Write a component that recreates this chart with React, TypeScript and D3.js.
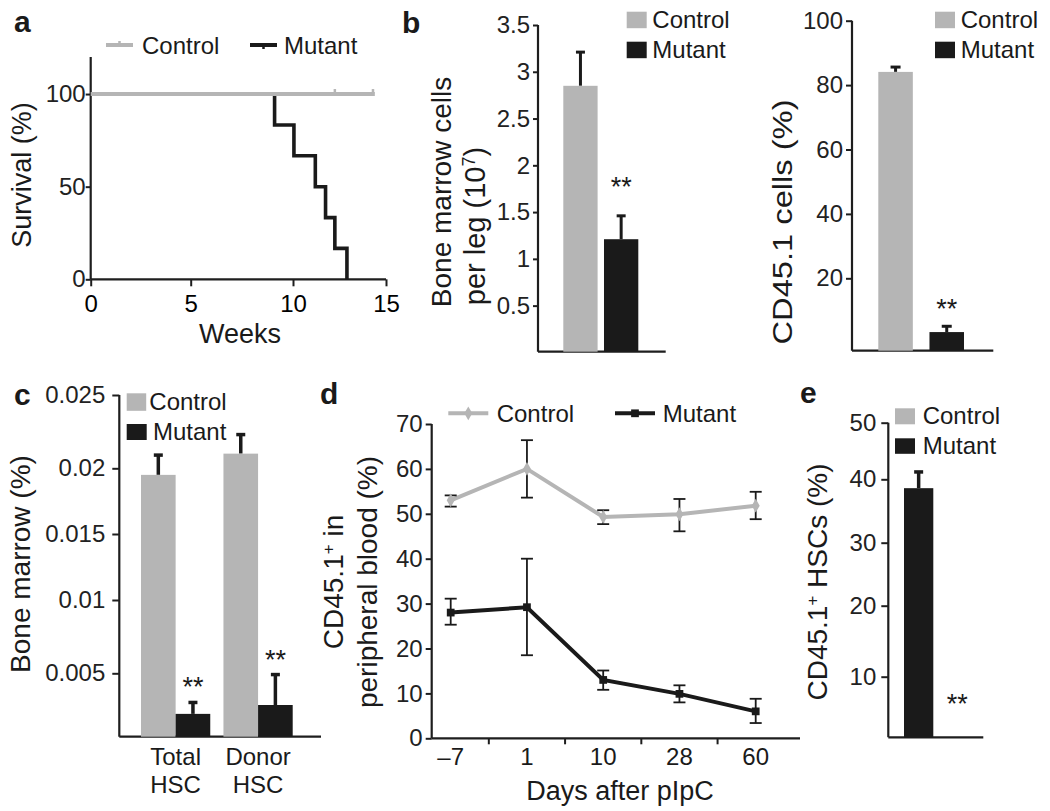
import React, { useEffect, useRef } from 'react';
import * as d3 from 'd3';

const GRAY = '#b5b5b5';
const BLACK = '#1a1a1a';
const AXIS = '#1e1e1e';
const FONT = '"Liberation Sans", Arial, Helvetica, sans-serif';
const TICK_FONT = 24;

// ---- Panel a: survival ----
const weekTicks = [0, 5, 10, 15];
const survivalTicks = [0, 50, 100];
const controlSurvivalEnd = 14.4;
const controlCensorWeeks = [12.25, 14.3];
const mutantDeathWeeks = [9.1, 10.05, 11.2, 11.75, 12.25, 12.9];
const mutantSurvival = [83.3, 66.7, 50, 33.3, 16.7, 0];

// ---- Panel b (left): bone marrow cells per leg ----
const groups = ['Control', 'Mutant'];
const bmCells = [2.85, 1.21];
const bmCellsErrTop = [3.21, 1.46];
const bmTicks = [0.5, 1, 1.5, 2, 2.5, 3, 3.5];

// ---- Panel b (right): CD45.1 cells ----
const cd45Cells = [84.1, 3.3];
const cd45CellsErrTop = [85.6, 5.1];
const cd45Ticks = [20, 40, 60, 80, 100];

// ---- Panel c: HSC frequency ----
const hscCategories = ['Total', 'Donor'];
const hscControl = [0.0195, 0.021];
const hscControlErrTop = [0.0209, 0.0223];
const hscMutant = [0.0018, 0.0025];
const hscMutantErrTop = [0.0027, 0.0049];
const hscTicks = [0.005, 0.01, 0.015, 0.02, 0.025];
const hscTickLabels = ['0.005', '0.01', '0.015', '0.02', '0.025'];

// ---- Panel d: peripheral blood chimerism ----
const days = ['\u20137', '1', '10', '28', '60'];
const pbControl = [53.0, 60.0, 49.3, 49.9, 51.8];
const pbControlLo = [51.6, 53.6, 47.7, 46.1, 48.8];
const pbControlHi = [54.1, 66.4, 50.8, 53.3, 54.9];
const pbMutant = [28.0, 29.2, 13.0, 9.9, 6.0];
const pbMutantLo = [25.3, 18.5, 10.8, 8.0, 3.4];
const pbMutantHi = [31.1, 40.0, 15.1, 11.8, 8.8];
const pbTicks = [0, 10, 20, 30, 40, 50, 60, 70];

// ---- Panel e: CD45.1+ HSCs ----
const eGroups = ['Mutant', 'Control'];
const eValues = [38.6, 0];
const eErrTop = [41.3, 0];
const eTicks = [10, 20, 30, 40, 50];

type Sel = d3.Selection<any, unknown, null, undefined>;

function leftAxis(svg: Sel, y: any, x: number, ticks: number[], labels: string[], tickLen: number, pad: number, top: number, bottom: number) {
  const g = svg.append('g').attr('transform', `translate(${x},0)`);
  g.call(
    d3.axisLeft(y).tickValues(ticks).tickSize(tickLen).tickPadding(pad)
      .tickFormat((_d: any, i: number) => labels[i]) as any
  );
  g.attr('font-size', TICK_FONT).attr('font-family', FONT);
  g.select('.domain').remove();
  g.selectAll('.tick line').attr('stroke', AXIS).attr('stroke-width', 2);
  g.selectAll('.tick text').attr('fill', '#222');
  g.append('line').attr('x1', 0).attr('x2', 0).attr('y1', top).attr('y2', bottom)
    .attr('stroke', AXIS).attr('stroke-width', 2.2);
}

function hLine(svg: Sel, x1: number, x2: number, y: number) {
  svg.append('line').attr('x1', x1).attr('x2', x2).attr('y1', y).attr('y2', y)
    .attr('stroke', AXIS).attr('stroke-width', 2.2);
}

function text(svg: Sel, x: number, y: number, s: string, size: number, anchor = 'start', weight = 'normal') {
  return svg.append('text').attr('x', x).attr('y', y).attr('font-size', size)
    .attr('font-family', FONT).attr('text-anchor', anchor).attr('font-weight', weight)
    .attr('fill', '#1a1a1a').text(s);
}

function vText(svg: Sel, x: number, y: number, size: number) {
  return svg.append('text').attr('transform', `translate(${x},${y}) rotate(-90)`)
    .attr('font-size', size).attr('font-family', FONT).attr('text-anchor', 'middle')
    .attr('fill', '#1a1a1a');
}

function squareLegend(svg: Sel, x: number, y1: number, y2: number, tx: number, b1: number, b2: number) {
  svg.append('rect').attr('x', x).attr('y', y1).attr('width', 20).attr('height', 16.5).attr('fill', GRAY);
  svg.append('rect').attr('x', x).attr('y', y2).attr('width', 20).attr('height', 16.5).attr('fill', BLACK);
  text(svg, tx, b1, 'Control', 24);
  text(svg, tx, b2, 'Mutant', 24);
}

function errCap(svg: Sel, cx: number, y0: number, y1: number, w: number, sw: number) {
  svg.append('line').attr('x1', cx).attr('x2', cx).attr('y1', y0).attr('y2', y1)
    .attr('stroke', BLACK).attr('stroke-width', sw);
  svg.append('line').attr('x1', cx - w / 2).attr('x2', cx + w / 2).attr('y1', y1).attr('y2', y1)
    .attr('stroke', BLACK).attr('stroke-width', sw);
}

function drawA(svg: Sel) {
  const x = d3.scaleLinear().domain(weekTicks).range([90.7, 190.7, 293, 386]);
  const y = d3.scaleLinear().domain([0, 120]).range([279.3, 57]);
  leftAxis(svg, y, 90.7, survivalTicks, survivalTicks.map(String), 5, 0, y(120), y(0));
  const gx = svg.append('g').attr('transform', `translate(0,${y(0)})`);
  gx.call(d3.axisBottom(x).tickValues(weekTicks).tickSize(7).tickPadding(9) as any);
  gx.attr('font-size', TICK_FONT).attr('font-family', FONT);
  gx.select('.domain').remove();
  gx.selectAll('.tick line').attr('stroke', AXIS).attr('stroke-width', 2);
  hLine(svg, 90.7, 386, y(0));

  const pts: [number, number][] = [[0, 100]];
  mutantDeathWeeks.forEach((w, i) => pts.push([w, mutantSurvival[i]]));
  const line = d3.line<[number, number]>().x(d => x(d[0])).y(d => y(d[1])).curve(d3.curveStepAfter);
  svg.append('path').attr('d', line(pts) as string).attr('fill', 'none').attr('stroke', BLACK).attr('stroke-width', 3.6);
  svg.append('line').attr('x1', x(0)).attr('x2', x(controlSurvivalEnd)).attr('y1', y(100)).attr('y2', y(100))
    .attr('stroke', GRAY).attr('stroke-width', 4);
  controlCensorWeeks.forEach(w => {
    svg.append('line').attr('x1', x(w)).attr('x2', x(w)).attr('y1', y(100)).attr('y2', y(100) - 5)
      .attr('stroke', GRAY).attr('stroke-width', 2.5);
  });
  svg.append('line').attr('x1', 106).attr('x2', 133).attr('y1', 45).attr('y2', 45).attr('stroke', GRAY).attr('stroke-width', 4);
  svg.append('line').attr('x1', 119.5).attr('x2', 119.5).attr('y1', 45).attr('y2', 41).attr('stroke', GRAY).attr('stroke-width', 2.5);
  text(svg, 142, 54, 'Control', 24);
  svg.append('line').attr('x1', 250).attr('x2', 277).attr('y1', 45).attr('y2', 45).attr('stroke', BLACK).attr('stroke-width', 4);
  svg.append('line').attr('x1', 263.5).attr('x2', 263.5).attr('y1', 45).attr('y2', 49).attr('stroke', BLACK).attr('stroke-width', 2.5);
  text(svg, 284, 54, 'Mutant', 24);

  text(svg, 240, 343, 'Weeks', 27, 'middle');
  vText(svg, 31, 175, 27).text('Survival (%)');
  text(svg, 14, 32, 'a', 30, 'start', 'bold');
}

function drawB(svg: Sel) {
  const axisY = 351.7;
  const y = d3.scaleLinear().domain([0, 3.5]).range([352.4, 25]);
  leftAxis(svg, y, 538, bmTicks, bmTicks.map(String), 5, 3, y(3.5), axisY);
  hLine(svg, 538, 665.7, axisY);
  const x = d3.scaleBand().domain(groups).range([563.3, 638.3]).paddingInner(0.157);
  groups.forEach((gname, i) => {
    const x0 = x(gname) as number;
    const cx = x0 + x.bandwidth() / 2;
    errCap(svg, cx, y(bmCells[i]), y(bmCellsErrTop[i]), 9, 3);
    svg.append('rect').attr('x', x0).attr('y', y(bmCells[i])).attr('width', x.bandwidth())
      .attr('height', axisY - y(bmCells[i])).attr('fill', i === 0 ? GRAY : BLACK);
  });
  const mx = (x('Mutant') as number) + x.bandwidth() / 2;
  text(svg, mx, y(bmCellsErrTop[1]) - 20, '**', 27, 'middle');
  squareLegend(svg, 626.7, 11.7, 41.7, 652.3, 28.3, 58.3);
  vText(svg, 451, 192, 28).text('Bone marrow cells');
  const t2 = vText(svg, 485, 226, 29);
  t2.append('tspan').text('per leg (10');
  t2.append('tspan').attr('dy', -10).attr('font-size', 18).text('7');
  t2.append('tspan').attr('dy', 10).text(')');
  text(svg, 402, 33, 'b', 30, 'start', 'bold');
}

function drawB2(svg: Sel) {
  const axisY = 350.7;
  const y = d3.scaleLinear().domain([0, 100]).range([342.7, 20.7]);
  leftAxis(svg, y, 852, cd45Ticks, cd45Ticks.map(String), 6, 3, y(100), axisY);
  hLine(svg, 852, 993.3, axisY);
  const x = d3.scaleBand().domain(groups).range([878.3, 964]).paddingInner(0.325);
  groups.forEach((gname, i) => {
    const x0 = x(gname) as number;
    const cx = x0 + x.bandwidth() / 2;
    errCap(svg, cx, y(cd45Cells[i]), y(cd45CellsErrTop[i]), 10, 3);
    svg.append('rect').attr('x', x0).attr('y', y(cd45Cells[i])).attr('width', x.bandwidth())
      .attr('height', axisY - y(cd45Cells[i])).attr('fill', i === 0 ? GRAY : BLACK);
  });
  const mx = (x('Mutant') as number) + x.bandwidth() / 2;
  text(svg, mx, y(cd45CellsErrTop[1]) - 8, '**', 27, 'middle');
  squareLegend(svg, 935, 11.7, 41.7, 960.7, 28.3, 58.3);
  vText(svg, 792, 222, 28).attr('textLength', 245).attr('lengthAdjust', 'spacingAndGlyphs').text('CD45.1 cells (%)');
}

function drawC(svg: Sel) {
  const axisY = 736.7;
  const y = d3.scaleLinear().domain([0, ...hscTicks]).range([736.7, 673.3, 600, 534, 468.3, 395]);
  leftAxis(svg, y, 119.3, hscTicks, hscTickLabels, 7, 7, y(0.025), axisY);
  hLine(svg, 119.3, 321, axisY);
  const outer = d3.scaleBand().domain(hscCategories).range([141, 292.7]).paddingInner(0.16);
  const inner = d3.scaleBand().domain(groups).range([0, outer.bandwidth()]);
  hscCategories.forEach((cat, i) => {
    const ox = outer(cat) as number;
    const vals = [hscControl[i], hscMutant[i]];
    const errs = [hscControlErrTop[i], hscMutantErrTop[i]];
    groups.forEach((gname, j) => {
      const x0 = ox + (inner(gname) as number);
      const cx = x0 + inner.bandwidth() / 2;
      errCap(svg, cx, y(vals[j]), y(errs[j]), 9, 3.5);
      svg.append('rect').attr('x', x0).attr('y', y(vals[j])).attr('width', inner.bandwidth())
        .attr('height', axisY - y(vals[j])).attr('fill', j === 0 ? GRAY : BLACK);
    });
    const mx = ox + (inner('Mutant') as number) + inner.bandwidth() / 2;
    text(svg, mx, y(hscMutantErrTop[i]) - 6, '**', 27, 'middle');
    const cx = ox + outer.bandwidth() / 2;
    text(svg, cx, 765, cat, 24, 'middle');
    text(svg, cx, 793, 'HSC', 24, 'middle');
  });
  svg.append('rect').attr('x', 126.7).attr('y', 393.3).attr('width', 19.5).attr('height', 17.5).attr('fill', GRAY);
  svg.append('rect').attr('x', 126.7).attr('y', 424).attr('width', 20).attr('height', 16).attr('fill', BLACK);
  text(svg, 149.3, 410, 'Control', 24);
  text(svg, 153, 440, 'Mutant', 24);
  vText(svg, 30, 564, 28).text('Bone marrow (%)');
  text(svg, 14, 405, 'c', 30, 'start', 'bold');
}

function drawD(svg: Sel) {
  const axisY = 738.3;
  const y = d3.scaleLinear().domain([0, 70]).range([738.3, 424]);
  leftAxis(svg, y, 431.7, pbTicks, pbTicks.map(String), 6, 3, y(70), axisY);
  hLine(svg, 431.7, 800, axisY);
  const x = d3.scalePoint().domain(days).range([450.7, 755.7]);
  days.forEach((d, i) => {
    if (i < days.length - 1) {
      const mid = ((x(d) as number) + (x(days[i + 1]) as number)) / 2;
      svg.append('line').attr('x1', mid).attr('x2', mid).attr('y1', axisY).attr('y2', axisY + 6)
        .attr('stroke', AXIS).attr('stroke-width', 2);
    }
    text(svg, x(d) as number, 765, d, TICK_FONT, 'middle');
  });
  const series = [
    { v: pbControl, lo: pbControlLo, hi: pbControlHi, color: GRAY, marker: 'diamond' },
    { v: pbMutant, lo: pbMutantLo, hi: pbMutantHi, color: BLACK, marker: 'square' },
  ];
  series.forEach(s => {
    const line = d3.line<number>().x((_v, i) => x(days[i]) as number).y(v => y(v));
    svg.append('path').attr('d', line(s.v) as string).attr('fill', 'none').attr('stroke', s.color).attr('stroke-width', 4);
  });
  series.forEach(s => {
    s.v.forEach((v, i) => {
      const cx = x(days[i]) as number;
      svg.append('line').attr('x1', cx).attr('x2', cx).attr('y1', y(s.lo[i])).attr('y2', y(s.hi[i]))
        .attr('stroke', BLACK).attr('stroke-width', 1.8);
      [s.lo[i], s.hi[i]].forEach(e => {
        svg.append('line').attr('x1', cx - 6).attr('x2', cx + 6).attr('y1', y(e)).attr('y2', y(e))
          .attr('stroke', BLACK).attr('stroke-width', 1.8);
      });
      const sym = d3.symbol().type(s.marker === 'diamond' ? d3.symbolDiamond : d3.symbolSquare)
        .size(s.marker === 'diamond' ? 55 : 60);
      svg.append('path').attr('d', sym() as string).attr('transform', `translate(${cx},${y(v)})`).attr('fill', s.color);
    });
  });
  svg.append('line').attr('x1', 448.3).attr('x2', 488.3).attr('y1', 413.3).attr('y2', 413.3).attr('stroke', GRAY).attr('stroke-width', 4);
  svg.append('path').attr('d', d3.symbol().type(d3.symbolDiamond).size(55)() as string)
    .attr('transform', 'translate(468.3,413.3)').attr('fill', GRAY);
  text(svg, 496.7, 422.3, 'Control', 24);
  svg.append('line').attr('x1', 615).attr('x2', 655).attr('y1', 413.3).attr('y2', 413.3).attr('stroke', BLACK).attr('stroke-width', 4);
  svg.append('path').attr('d', d3.symbol().type(d3.symbolSquare).size(60)() as string)
    .attr('transform', 'translate(635,413.3)').attr('fill', BLACK);
  text(svg, 662.7, 422.3, 'Mutant', 24);

  text(svg, 620, 800, 'Days after pIpC', 27, 'middle');
  const l1 = vText(svg, 343, 582, 28);
  l1.append('tspan').text('CD45.1');
  l1.append('tspan').attr('dy', -9).attr('font-size', 17).text('+');
  l1.append('tspan').attr('dy', 9).text(' in');
  vText(svg, 377, 582, 28).text('peripheral blood (%)');
  text(svg, 320, 404, 'd', 30, 'start', 'bold');
}

function drawE(svg: Sel) {
  const axisY = 737.3;
  const y = d3.scaleLinear().domain([0, ...eTicks]).range([737.3, 676.7, 605.7, 542.7, 479.3, 422.7]);
  leftAxis(svg, y, 888.3, eTicks, eTicks.map(String), 7, 5, y(50), axisY);
  hLine(svg, 888.3, 983.3, axisY);
  const x = d3.scaleBand().domain(eGroups).range([904, 971.9]).paddingInner(0.241);
  eGroups.forEach((gname, i) => {
    const x0 = x(gname) as number;
    const cx = x0 + x.bandwidth() / 2;
    if (eValues[i] > 0) {
      errCap(svg, cx, y(eValues[i]), y(eErrTop[i]), 9, 3.5);
      svg.append('rect').attr('x', x0).attr('y', y(eValues[i])).attr('width', x.bandwidth())
        .attr('height', axisY - y(eValues[i])).attr('fill', gname === 'Control' ? GRAY : BLACK);
    } else {
      text(svg, cx, y(eValues[i]) - 24, '**', 27, 'middle');
    }
  });
  svg.append('rect').attr('x', 895).attr('y', 408.3).attr('width', 20).attr('height', 16).attr('fill', GRAY);
  svg.append('rect').attr('x', 895).attr('y', 438.3).attr('width', 20).attr('height', 15.5).attr('fill', BLACK);
  text(svg, 922.7, 424, 'Control', 24);
  text(svg, 922.7, 453.5, 'Mutant', 24);
  const l = vText(svg, 827, 582, 28);
  l.append('tspan').text('CD45.1');
  l.append('tspan').attr('dy', -9).attr('font-size', 17).text('+');
  l.append('tspan').attr('dy', 9).text(' HSCs (%)');
  text(svg, 800, 403, 'e', 30, 'start', 'bold');
}

export default function App() {
  const ref = useRef<SVGSVGElement>(null);
  useEffect(() => {
    const svg = d3.select(ref.current) as unknown as Sel;
    svg.selectAll('*').remove();
    svg.append('rect').attr('width', 1050).attr('height', 811).attr('fill', '#fff');
    drawA(svg);
    drawB(svg);
    drawB2(svg);
    drawC(svg);
    drawD(svg);
    drawE(svg);
  }, []);
  return (
    <svg ref={ref} width={1050} height={811}
      style={{ position: 'absolute', left: 0, top: 0, display: 'block' }} />
  );
}
